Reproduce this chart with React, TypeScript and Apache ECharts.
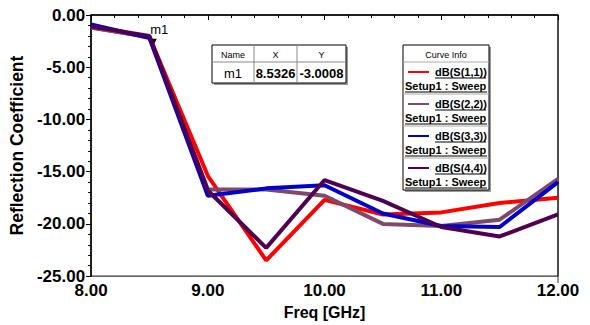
import React, { useEffect, useRef } from "react";
import * as echarts from "echarts";

const freqs = [8.0, 8.5, 9.0, 9.5, 10.0, 10.5, 11.0, 11.5, 12.0];
const s11 = [-1.2, -2.1, -15.4, -23.5, -17.7, -19.1, -18.9, -18.0, -17.5];
const s22 = [-1.2, -2.1, -16.7, -16.7, -17.3, -20.0, -20.2, -19.6, -15.7];
const s33 = [-0.9, -2.2, -17.3, -16.6, -16.3, -19.0, -20.2, -20.3, -16.0];
const s44 = [-1.1, -2.0, -16.8, -22.3, -15.8, -17.8, -20.3, -21.2, -19.1];

const seriesNames = ["dB(S(1,1))", "dB(S(2,2))", "dB(S(3,3))", "dB(S(4,4))"];
const seriesColors = ["#ff0000", "#7f4a6a", "#0000cc", "#4f0050"];
const seriesData = [s11, s22, s33, s44];
const setupLabel = "Setup1 : Sweep";

const markerName = "m1";
const markerX = 8.5326;
const markerY = -3.0008;

const FONT = "Liberation Sans, Arial, sans-serif";

export default function App() {
  const ref = useRef<HTMLDivElement>(null);
  useEffect(() => {
    if (!ref.current) return;
    const chart = echarts.init(ref.current, null, { renderer: "svg" });

    const graphics: any[] = [];
    // marker table
    const tx = 212, ty = 45, cw = [42, 43, 49], rh = [17, 21];
    const tw = cw[0] + cw[1] + cw[2];
    graphics.push({ type: "rect", shape: { x: tx + 2, y: ty + 2, width: tw, height: rh[0] + rh[1] }, style: { fill: "#999" } });
    graphics.push({ type: "rect", shape: { x: tx, y: ty, width: tw, height: rh[0] + rh[1] }, style: { fill: "#fff", stroke: "#000", lineWidth: 1 } });
    graphics.push({ type: "line", shape: { x1: tx, y1: ty + rh[0], x2: tx + tw, y2: ty + rh[0] }, style: { stroke: "#888", lineWidth: 1 } });
    let cx = tx;
    const heads = ["Name", "X", "Y"];
    const vals = [markerName, markerX.toFixed(4), markerY.toFixed(4)];
    for (let i = 0; i < 3; i++) {
      if (i > 0) graphics.push({ type: "line", shape: { x1: cx, y1: ty, x2: cx, y2: ty + rh[0] + rh[1] }, style: { stroke: "#888", lineWidth: 1 } });
      graphics.push({ type: "text", x: cx + cw[i] / 2, y: ty + rh[0] / 2 + 1, style: { text: heads[i], fontSize: 9, fontFamily: FONT, fill: "#000", align: "center", verticalAlign: "middle" } });
      graphics.push({ type: "text", x: cx + cw[i] / 2, y: ty + rh[0] + rh[1] / 2 + 1, style: { text: vals[i], fontSize: 13, fontWeight: i === 0 ? "normal" : "bold", fontFamily: FONT, fill: "#000", align: "center", verticalAlign: "middle" } });
      cx += cw[i];
    }

    // curve info legend
    const lx = 403, ly = 45, lw = 86, lh0 = 17, eh = 32;
    const lhTot = lh0 + eh * seriesNames.length;
    graphics.push({ type: "rect", shape: { x: lx + 2, y: ly + 2, width: lw, height: lhTot }, style: { fill: "#999" } });
    graphics.push({ type: "rect", shape: { x: lx, y: ly, width: lw, height: lhTot }, style: { fill: "#fff", stroke: "#000", lineWidth: 1 } });
    graphics.push({ type: "text", x: lx + lw / 2, y: ly + lh0 / 2 + 1, style: { text: "Curve Info", fontSize: 9, fontFamily: FONT, fill: "#000", align: "center", verticalAlign: "middle" } });
    seriesNames.forEach((n, i) => {
      const ey = ly + lh0 + eh * i;
      graphics.push({ type: "line", shape: { x1: lx, y1: ey, x2: lx + lw, y2: ey }, style: { stroke: "#aaa", lineWidth: 1 } });
      graphics.push({ type: "line", shape: { x1: lx + 5, y1: ey + 10, x2: lx + 26, y2: ey + 10 }, style: { stroke: seriesColors[i], lineWidth: 2 } });
      graphics.push({ type: "text", x: lx + 32, y: ey + 10, style: { text: n, fontSize: 11, fontWeight: "bold", fontFamily: FONT, fill: "#000", verticalAlign: "middle" } });
      graphics.push({ type: "line", shape: { x1: lx + 32, y1: ey + 16, x2: lx + 83, y2: ey + 16 }, style: { stroke: "#000", lineWidth: 1 } });
      graphics.push({ type: "text", x: lx + 2, y: ey + 24, style: { text: setupLabel, fontSize: 11, fontWeight: "bold", fontFamily: FONT, fill: "#000", verticalAlign: "middle" } });
      graphics.push({ type: "line", shape: { x1: lx + 2, y1: ey + 30, x2: lx + 84, y2: ey + 30 }, style: { stroke: "#000", lineWidth: 1 } });
    });
    // right border shade
    graphics.push({ type: "line", shape: { x1: 558, y1: 15, x2: 558, y2: 283 }, style: { stroke: "#999", lineWidth: 2 }, z: -1 });

    const series: any[] = seriesNames.map((n, i) => ({
      name: n,
      type: "line",
      data: freqs.map((f, j) => [f, seriesData[i][j]]),
      symbol: "none",
      lineStyle: { color: seriesColors[i], width: 4 },
      itemStyle: { color: seriesColors[i] },
      z: 2 + i,
    }));
    series[0].markPoint = {
      symbol: "triangle",
      symbolSize: 7,
      symbolRotate: 180,
      symbolOffset: [0, -4],
      itemStyle: { color: "#000" },
      label: { show: true, position: "top", offset: [6, -3], formatter: markerName, fontSize: 13, fontFamily: FONT, color: "#000", distance: 0 },
      data: [{ coord: [markerX, markerY] }],
    };

    chart.setOption({
      animation: false,
      backgroundColor: "#fff",
      grid: { left: 88, right: 32, top: 15, bottom: 42, show: true, borderColor: "#000", borderWidth: 1 },
      xAxis: {
        type: "value",
        min: 8,
        max: 12,
        interval: 1,
        splitLine: { show: false },
        axisLine: { lineStyle: { color: "#000", width: 1.5 } },
        axisTick: { show: true, length: 5, lineStyle: { color: "#000" } },
        minorTick: { show: true, splitNumber: 5, length: 3, lineStyle: { color: "#000" } },
        axisLabel: { formatter: (v: number) => v.toFixed(2), fontSize: 17, fontWeight: "bold", fontFamily: FONT, color: "#000", margin: 6 },
        name: "Freq [GHz]",
        nameLocation: "middle",
        nameGap: 27,
        nameTextStyle: { fontSize: 16, fontWeight: "bold", fontFamily: FONT, color: "#000" },
      },
      yAxis: {
        type: "value",
        min: -25,
        max: 0,
        interval: 5,
        splitLine: { show: false },
        axisLine: { show: true, lineStyle: { color: "#000", width: 1.5 } },
        axisTick: { show: true, length: 5, lineStyle: { color: "#000" } },
        minorTick: { show: true, splitNumber: 5, length: 3, lineStyle: { color: "#000" } },
        axisLabel: { formatter: (v: number) => v.toFixed(2), fontSize: 17, fontWeight: "bold", fontFamily: FONT, color: "#000", margin: 6 },
        name: "Reflection Coefficient",
        nameLocation: "middle",
        nameGap: 58,
        nameTextStyle: { fontSize: 17.5, fontWeight: "bold", fontFamily: FONT, color: "#000" },
      },
      series,
      graphic: graphics,
    });
    return () => chart.dispose();
  }, []);
  return <div ref={ref} style={{ width: 590, height: 325, position: "absolute", left: 0, top: 0 }} />;
}
